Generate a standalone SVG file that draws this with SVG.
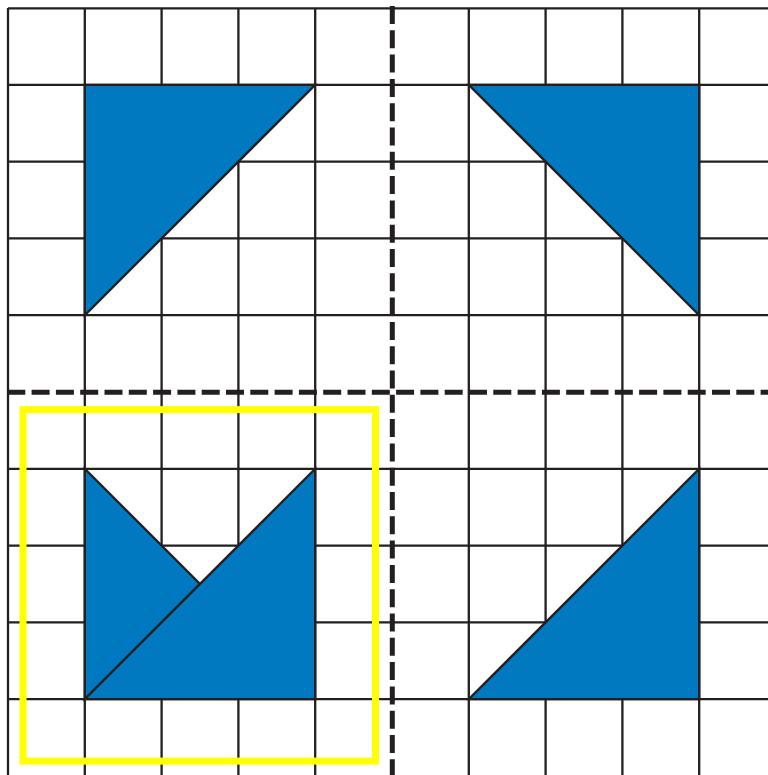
<svg xmlns="http://www.w3.org/2000/svg" width="768" height="775" viewBox="0 0 768 775">
<style>
.g{stroke:#231f20;stroke-width:2.3;fill:none}
.t{fill:#0079c1;stroke:#231f20;stroke-width:2.3;stroke-linejoin:miter}
.d{stroke:#231f20;stroke-width:5;stroke-dasharray:18 6.3;fill:none}
</style>
<rect width="768" height="775" fill="#fff"/>
<g id="grid">
<path class="g" d="M8,8V775M84.8,8V775M161.6,8V775M238.4,8V775M315.2,8V775M468.8,8V775M545.6,8V775M622.4,8V775M699.2,8V775"/>
<path class="g" d="M8,8.3H768M8,84.8H768M8,161.6H768M8,238.4H768M8,315.2H768M8,468.8H768M8,545.6H768M8,622.4H768M8,699.2H768"/>
</g>
<g id="shape-top-left"><polygon class="t" points="84.8,84.8 315.2,84.8 84.8,315.2"/></g>
<g id="shape-top-right"><polygon class="t" points="468.8,84.8 699.2,84.8 699.2,315.2"/></g>
<g id="shape-bottom-right"><polygon class="t" points="699.2,468.8 699.2,699.2 468.8,699.2"/></g>
<g id="shape-bottom-left">
<polygon class="t" points="84.8,468.8 200,584 84.8,699.2"/>
<polygon class="t" points="315.2,468.8 315.2,699.2 84.8,699.2"/>
</g>
<g id="axes">
<path class="d" d="M7.3,392.3H768"/>
<path class="d" d="M392.3,6V775"/>
</g>
<g id="highlight"><rect x="23" y="409.6" width="352.5" height="351.5" fill="none" stroke="#ffff00" stroke-width="7"/></g>
</svg>
